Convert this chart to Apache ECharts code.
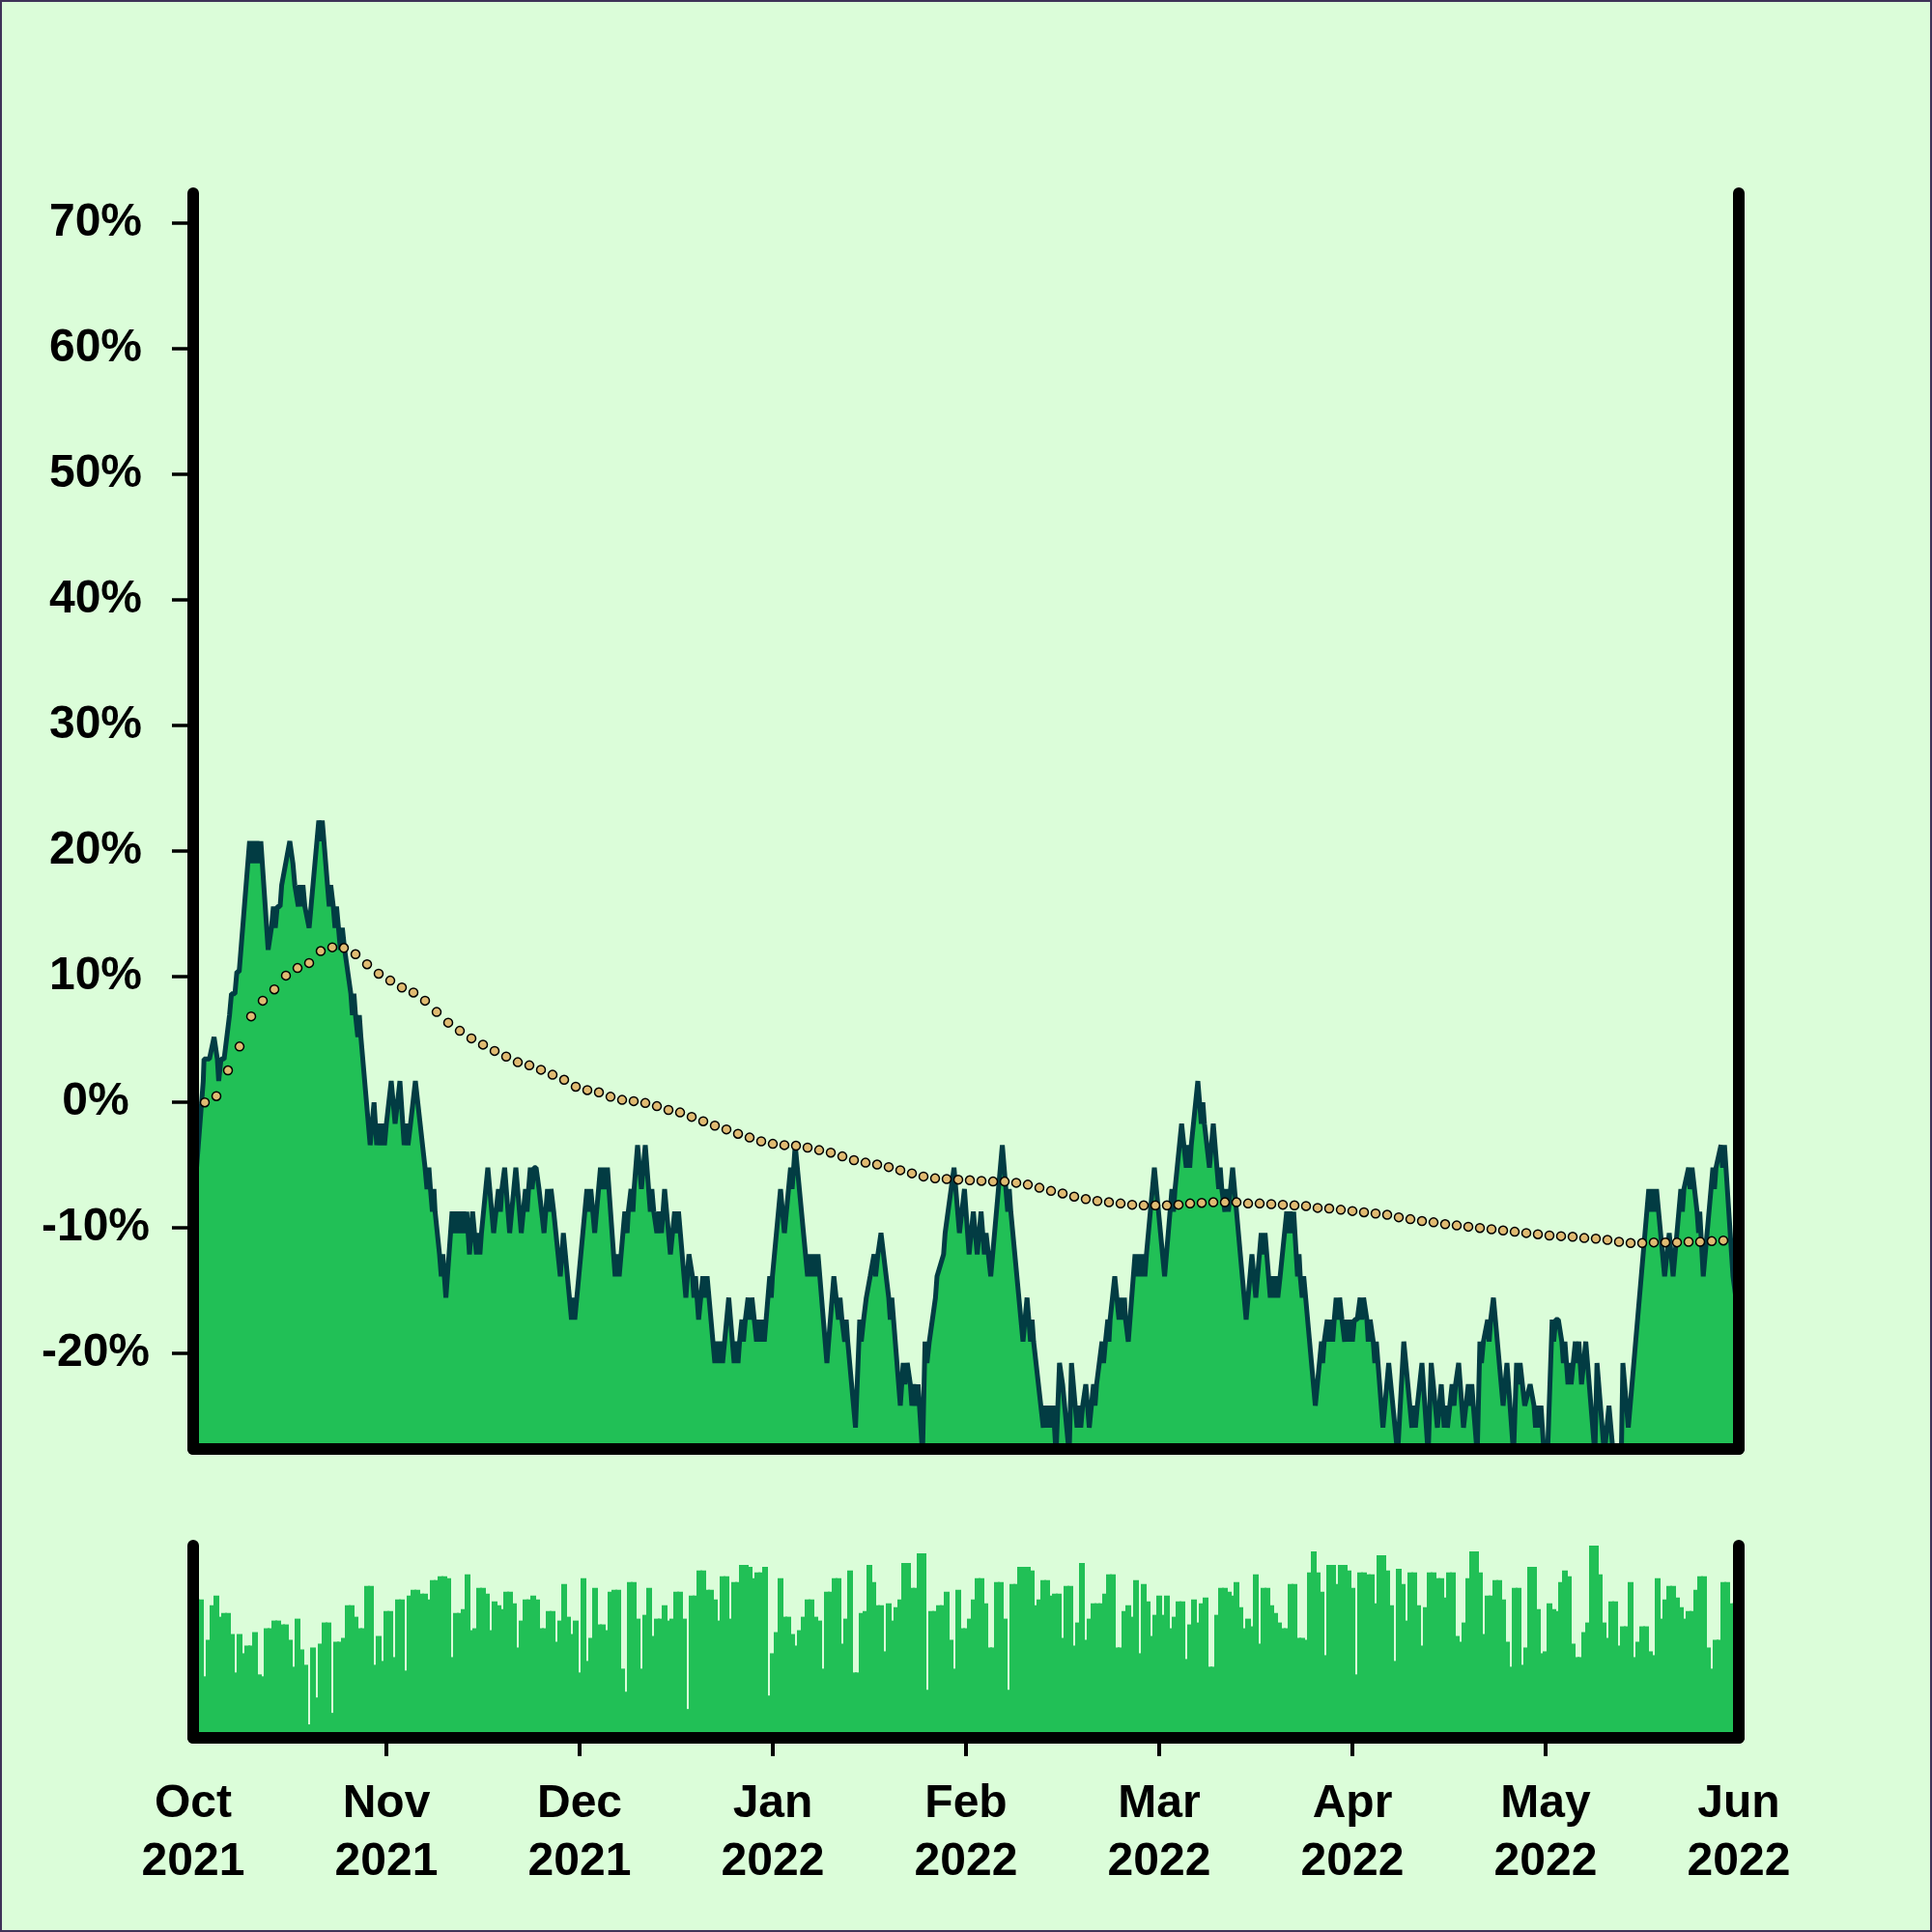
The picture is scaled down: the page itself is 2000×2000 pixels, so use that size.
<!DOCTYPE html>
<html><head><meta charset="utf-8">
<script src="https://cdn.jsdelivr.net/npm/echarts@6/dist/echarts.min.js"></script>
<style>html,body{margin:0;padding:0;background:#dbfdd9}#c{width:2000px;height:2000px}</style>
</head><body><div id="c"></div>
<script>
// ---------------- data ----------------
const monthLabels = ['Oct\n2021','Nov\n2021','Dec\n2021','Jan\n2022','Feb\n2022','Mar\n2022','Apr\n2022','May\n2022','Jun\n2022'];
const monthTickPoints = [50,100,150,200,250,300,350];
const yTickValues = [-20,-10,0,10,20,30,40,50,60,70];
// main series vertices: [point index, percent]
const mainLine = [
[0,-8.7],[2.6,1.7],[2.8,3.45],[4.2,3.45],[5.4,5.2],[6.25,3.45],[6.6,1.7],[7.2,3.45],[8,3.45],[9.4,6.95],[9.9,8.65],[10.8,8.65],[11.3,10.4],[11.9,10.4],[14.6,20.8],
[15,19.05],[15.5,20.8],[16,19.05],[16.5,20.8],[17,19.05],[17.5,20.8],
[19.4,12.15],[20.25,13.9],[20.75,15.6],[21.25,13.9],[21.75,15.6],[22.5,15.6],[22.9,17.3],[25,20.8],[25.8,19.05],[26.3,17.3],[26.7,17.3],[27.2,15.6],[27.6,17.3],[28,15.6],[28.4,17.3],[28.9,15.6],[30,13.9],
[32.5,22.45],[33,20.8],[33.4,22.45],[33.75,22.45],[34.75,17.3],[35.2,15.6],[35.6,17.3],[36.25,15.6],[36.7,13.9],[37.1,15.6],[37.6,13.9],[38.1,12.15],[38.6,13.9],[39.2,12.15],[40.8,8.65],[41.2,6.95],[41.6,8.65],[42,6.95],[42.6,5.2],[43,6.95],[43.4,5.2],
[45.8,-3.4],[46.8,0],[47.5,-3.4],[48,-1.7],[48.5,-3.4],[49,-1.7],[49.5,-3.4],[50,-1.7],[51.25,1.7],[52.25,-1.7],[53.5,1.7],[54.6,-3.4],[55.1,-1.7],[55.6,-3.4],[56.25,-1.7],[57.5,1.7],
[60,-5.2],[60.5,-6.9],[61,-5.2],[61.4,-6.9],[61.9,-8.7],[62.3,-6.9],[62.6,-8.7],[63.75,-12.1],[64.2,-13.85],[64.6,-12.1],[65,-13.85],[65.4,-15.55],[67,-8.7],[67.5,-10.4],[68,-8.7],[68.5,-10.4],[69,-8.7],[69.5,-10.4],[70,-8.7],[70.5,-10.4],[70.8,-8.7],[71.5,-12.1],[72.3,-8.7],[73.3,-12.1],[73.8,-10.4],[74.2,-12.1],[74.6,-10.4],[76.25,-5.2],[77.75,-10.4],[79,-6.9],[79.5,-8.7],[79.9,-6.9],[80.6,-5.2],[81.9,-10.4],[83.5,-5.2],[84.9,-10.4],[86,-6.9],[86.4,-8.7],[86.8,-6.9],[87.25,-5.2],[87.7,-6.9],[88.2,-5.2],[88.75,-5.2],[89.5,-6.9],[90.8,-10.4],[91.7,-6.9],[92.1,-8.7],[92.6,-6.9],[93.3,-8.7],[95,-13.85],[95.8,-10.4],[97.9,-17.3],[98.3,-15.55],[98.75,-17.3],[99.2,-17.3],
[101.9,-6.9],[102.4,-8.7],[102.9,-6.9],[103.9,-10.4],[105.4,-5.2],[105.8,-6.9],[106.3,-5.2],[106.8,-6.9],[107.2,-5.2],[109.2,-13.85],[109.6,-12.1],[110.25,-13.85],[111.7,-8.7],[112.3,-10.4],[112.6,-8.7],[113.3,-6.9],[113.8,-8.7],[114.1,-6.9],[115,-3.4],[116,-6.9],[117,-3.4],[118.3,-8.7],[118.7,-6.9],[119.2,-8.7],[120,-10.4],[120.5,-8.7],[121.2,-10.4],[122,-6.9],[123.5,-12.1],[124.6,-8.7],[125.1,-10.4],[125.6,-8.7],[127.5,-15.55],[128.3,-12.1],[129.2,-13.85],[129.6,-15.55],[130,-13.85],[130.8,-17.3],[131.9,-13.85],[132.5,-15.55],[133,-13.85],[135,-20.75],[135.5,-19.05],[136,-20.75],[136.5,-19.05],[137,-20.75],[137.5,-20.75],[138.6,-15.55],[140,-20.75],[140.5,-19.05],[141,-20.75],[141.4,-19.05],[142,-17.3],[142.4,-19.05],[142.9,-17.3],[143.6,-15.55],[144.1,-17.3],[144.6,-15.55],[145.8,-19.05],[146.3,-17.3],[146.8,-19.05],[147.3,-17.3],[147.8,-19.05],[148.2,-19.05],[149.2,-13.85],[149.6,-15.55],[149.9,-13.85],[152,-6.9],[153,-10.4],[154.6,-5.2],[155,-6.9],[155.4,-5.2],[155.8,-3.4],[159,-13.85],[159.5,-12.1],[160,-13.85],[160.5,-12.1],[161,-13.85],[161.7,-12.1],[164,-20.75],[165.8,-13.85],[167,-17.3],[167.4,-15.55],[167.9,-17.3],[168.6,-19.05],[169,-17.3],[169.4,-19.05],[171.4,-25.9],[172.5,-17.3],[172.9,-19.05],[173.5,-17.3],[174.2,-15.55],[175.2,-13.85],[176.2,-12.1],[176.6,-13.85],[177.2,-12.1],[178,-10.4],[180,-15.55],[180.4,-17.3],[180.8,-15.55],[183,-24.15],[183.75,-20.75],[184.2,-22.45],[184.8,-20.75],[185.6,-22.45],[186,-24.15],[186.5,-22.45],[187,-24.15],[187.6,-22.45],[188.75,-28],[189.4,-19.05],[189.9,-20.75],[190.5,-19.05],[192.1,-15.55],[192.5,-13.85],[194.2,-12.1],[194.6,-10.4],[196.9,-5.2],[198.3,-10.4],
[199.6,-6.9],[200.8,-12.1],[201.9,-8.7],[202.9,-12.1],[203.9,-8.7],[204.75,-12.1],[205.2,-10.4],[206.4,-13.85],[209.4,-3.4],[210.8,-8.7],[211.2,-6.9],[211.6,-8.7],[214.75,-19.05],[215.8,-15.55],[216.7,-19.05],[217.1,-17.3],[217.5,-19.05],[220,-25.9],[220.5,-24.15],[221,-25.9],[221.5,-24.15],[222,-25.9],[222.5,-24.15],[222.9,-25.9],[223.3,-28],[224.2,-20.75],[225,-22.45],[226.7,-28],[227.3,-20.75],[228.75,-25.9],[229.2,-24.15],[229.7,-25.9],[230.2,-24.15],[231,-22.45],[231.9,-25.9],[233,-22.45],[233.4,-24.15],[233.8,-22.45],[235.2,-19.05],[235.6,-20.75],[236.1,-19.05],[236.7,-17.3],[237,-19.05],[237.3,-17.3],[238.5,-13.85],[239.6,-17.3],[240,-15.55],[240.5,-17.3],[241,-15.55],[241.3,-17.3],[242,-19.05],[243.75,-12.1],[244.2,-13.85],[244.7,-12.1],[245.2,-13.85],[245.7,-12.1],[246.3,-13.85],[246.7,-12.1],[248.75,-5.2],[251.4,-13.85],[253.3,-6.9],[253.7,-8.7],[254.1,-6.9],[255.8,-1.7],[257,-5.2],[257.4,-3.4],[257.9,-5.2],[258.3,-3.4],[260,1.7],[260.9,-1.7],[261.3,0],[261.7,-1.7],[263,-5.2],[264,-1.7],[265.4,-6.9],[265.8,-5.2],[266.2,-6.9],[267,-8.7],[267.4,-6.9],[267.9,-8.7],[269,-5.2],[272.5,-17.3],[274,-12.1],[275,-15.55],[276.4,-10.4],[276.9,-12.1],[277.4,-10.4],[277.8,-10.4],[278.75,-15.55],[279.2,-13.85],[279.7,-15.55],[280.2,-13.85],[280.7,-15.55],[281.3,-13.85],[283,-8.7],[283.4,-10.4],[283.9,-8.7],[284.4,-10.4],[284.8,-8.7],[285.8,-13.85],[286.2,-12.1],[286.5,-13.85],[287,-15.55],[287.4,-13.85],[287.9,-15.55],[290.4,-24.15],[292,-19.05],[292.3,-20.75],[292.7,-19.05],[293.5,-17.3],[293.9,-19.05],[294.4,-17.3],[294.9,-19.05],[295.3,-17.3],[295.8,-15.55],[296.2,-17.3],[296.7,-15.55],[297.3,-17.3],[298,-19.05],[298.5,-17.3],[299,-19.05],[299.5,-17.3],[300,-19.05],[300.5,-17.3],[301.25,-17.3],
[302,-15.55],[302.4,-17.3],[302.9,-15.55],[303.75,-17.3],[304.1,-19.05],[304.6,-17.3],[305.4,-19.05],[305.8,-20.75],[306.2,-19.05],[307.9,-25.9],[309.4,-20.75],[311.7,-28],[312,-28],[313.3,-19.05],[315.4,-25.9],[315.8,-24.15],[316.3,-25.9],[316.8,-24.15],[318,-20.75],[319.6,-28],[320.4,-20.75],[322,-25.9],[323,-22.45],[323.75,-25.9],[324.2,-24.15],[324.6,-25.9],[325.2,-24.15],[325.8,-22.45],[326.3,-24.15],[326.7,-22.45],[327.5,-20.75],[328.75,-25.9],[330,-22.45],[330.4,-24.15],[330.9,-22.45],[331.3,-24.15],[332.3,-28],[333,-19.05],[333.4,-20.75],[333.9,-19.05],[335,-17.3],[335.4,-19.05],[335.8,-17.3],[336.5,-15.55],[339,-24.15],[340,-20.75],[341.7,-28],[342.5,-20.75],[342.9,-22.45],[343.4,-20.75],[344.6,-24.15],[346,-22.45],[347,-24.15],[347.4,-25.9],[347.9,-24.15],[348.4,-25.9],[348.8,-24.15],[349.6,-28],[350.5,-28],[351.7,-17.3],[352.1,-19.05],[352.6,-17.3],[353.3,-17.3],[354.2,-19.05],[354.6,-20.75],[355,-19.05],[355.8,-22.45],[356.2,-20.75],[356.6,-22.45],[357.7,-19.05],[358.1,-20.75],[358.6,-19.05],[359.3,-22.45],[360.4,-19.05],[362.75,-28],[363.3,-20.75],[365.2,-28],[366.4,-24.15],[367.5,-28],[369.6,-28],[370,-20.75],[371.4,-25.9],[376.7,-6.9],[377.2,-8.7],[377.7,-6.9],[378.2,-8.7],[378.7,-6.9],[380.8,-13.85],[382,-10.4],[383,-13.85],[385,-6.9],[385.4,-8.7],[385.8,-6.9],[387,-5.2],[387.4,-6.9],[387.9,-5.2],[388.3,-5.2],[389.2,-8.7],[389.6,-10.4],[389.9,-8.7],[390.8,-13.85],[393.3,-5.2],[393.7,-6.9],[394.1,-5.2],[395.4,-3.4],[395.8,-5.2],[396.3,-3.4],[396.8,-3.4],[398.5,-13.85],[400,-17.3]
];
// dotted running line: one value every 3rd point, starting at point 3
const dotStart = 3, dotStep = 3;
const dotValues = [
0.0,0.5,2.55,4.45,6.85,8.1,9.0,10.1,10.7,11.1,12.05,12.35,12.3,11.8,11.0,10.25,9.7,9.15,8.75,8.1,7.2,6.35,5.7,5.1,4.6,4.1,3.65,3.2,2.95,2.6,2.2,1.8,1.25,
0.98,0.8,0.45,0.2,0.1,-0.05,-0.3,-0.6,-0.8,-1.15,-1.5,-1.85,-2.15,-2.5,-2.8,-3.1,-3.3,-3.4,-3.45,-3.6,-3.8,-4.0,-4.3,-4.6,-4.8,-4.95,-5.15,-5.4,-5.65,-5.9,-6.05,-6.1,-6.15,
-6.2,-6.25,-6.3,-6.3,-6.4,-6.55,-6.8,-7.05,-7.25,-7.5,-7.7,-7.85,-7.95,-8.05,-8.15,-8.2,-8.2,-8.2,-8.15,-8.05,-8.0,-7.95,-7.95,-7.95,-8.05,-8.05,-8.1,-8.15,-8.2,-8.25,-8.4,-8.45,-8.55,
-8.65,-8.75,-8.85,-8.95,-9.15,-9.3,-9.45,-9.55,-9.7,-9.8,-9.9,-10.0,-10.1,-10.2,-10.3,-10.4,-10.5,-10.6,-10.65,-10.7,-10.8,-10.85,-10.95,-11.1,-11.2,-11.2,-11.15,-11.15,-11.15,-11.1,-11.1,-11.05,-11.0
];
// lower panel bars, one per point (relative height 0-100)
const barValues = [
72,72,72,32,51,69,74,63,65,65, 54,34,54,44,48,48,55,33,32,57, 57,61,61,59,59,51,37,62,46,38, 7,47,21,49,60,60,13,50,50,52,
69,69,63,57,57,79,79,38,53,40, 66,66,42,72,72,35,74,77,77,75, 75,72,82,82,84,84,83,42,65,65, 67,85,56,57,78,78,75,56,71,69,
67,76,76,70,47,61,72,72,74,72, 57,57,66,66,50,61,80,63,54,61, 34,83,
40,52,78,59,59,56,76,77, 77,36,24,81,81,62,36,64,78,53, 62,62,69,61,62,76,76,62,15,74, 74,87,87,77,77,72,61,84,84,62,
81,81,90,90,89,83,86,86,89,22, 44,55,83,63,63,54,48,56,63,72, 72,63,61,36,76,76,83,83,49,62, 87,34,34,65,66,90,81,69,69,45,
70,61,68,72,91,91,78,78,96,96, 25,66,66,69,69,76,51,36,77,57, 57,62,
72,83,83,70,47,47,81,81, 62,25,80,80,89,89,89,87,69,72, 82,82,74,75,75,52,79,79,48,60, 91,51,62,70,70,70,75,85,85,47,
47,66,69,63,82,44,80,71,53,64, 74,64,74,57,63,71,71,41,59,72, 60,70,73,37,37,64,78,78,76,74, 81,68,57,62,58,85,49,78,78,69,
65,60,57,57,80,80,52,52,51,86, 97,86,76,43,90,90,80,90,90,87, 78,33,
86,86,85,85,70,95,95,87, 69,40,88,80,61,86,86,69,48,68, 86,86,83,83,73,86,86,53,50,60, 83,97,97,86,54,74,74,82,82,72,
50,37,78,78,38,47,89,89,67,44, 45,70,67,66,81,87,84,49,42,42, 55,60,100,100,85,60,52,71,71,48, 58,58,81,42,50,58,58,45,43,83,
62,72,79,79,73,68,62,66,66,77, 84,84,47,36,51,51,81,81,70,70, 70
];

// ---------------- chart ----------------
const BG = '#dbfdd9', GREEN = '#21c056', DARK = '#023c43', TAN = '#e0bb72';
const FONT = 'Liberation Sans';
const axisLineStyle = {color:'#000', width:12, cap:'round'};
function plainAxis(extra){
  return Object.assign({
    axisLine:{show:true, onZero:false, lineStyle:axisLineStyle},
    axisTick:{show:false}, axisLabel:{show:false}, splitLine:{show:false}, z:10
  }, extra);
}
const chart = echarts.init(document.getElementById('c'), null, {renderer:'canvas'});
chart.setOption({
  backgroundColor: BG,
  animation: false,
  graphic: [{type:'rect', z:100, silent:true, shape:{x:1, y:1, width:1998, height:1998},
    style:{fill:null, stroke:'#3e3358', lineWidth:2}}],
  grid: [
    {left:200, right:200, top:200, bottom:500},
    {left:200, right:200, top:1600, bottom:201}
  ],
  xAxis: [
    plainAxis({gridIndex:0, type:'value', min:0, max:400}),
    plainAxis({gridIndex:1, type:'value', min:0, max:400, interval:50,
      axisTick:{show:true, customValues:monthTickPoints, length:19, lineStyle:{color:'#000', width:4}},
      axisLabel:{show:true, formatter:v => monthLabels[Math.round(v/50)], fontSize:48, fontWeight:'bold',
        fontFamily:FONT, color:'#000', lineHeight:60, margin:39, showMinLabel:true, showMaxLabel:true}
    })
  ],
  yAxis: [
    plainAxis({gridIndex:0, type:'value', min:-27.6, max:72.4, position:'left',
      axisTick:{show:true, customValues:yTickValues, length:22, lineStyle:{color:'#000', width:3.5}},
      axisLabel:{show:true, customValues:yTickValues, formatter:v => v + '%', fontSize:48, fontWeight:'bold',
        fontFamily:FONT, color:'#000', align:'center', margin:101}
    }),
    plainAxis({gridIndex:0, type:'value', min:-27.6, max:72.4, position:'right'}),
    plainAxis({gridIndex:1, type:'value', min:0, max:100, position:'left'}),
    plainAxis({gridIndex:1, type:'value', min:0, max:100, position:'right'})
  ],
  series: [
    {type:'bar', xAxisIndex:1, yAxisIndex:2, data:barValues.map((v,i)=>[i,v]), barWidth:6,
      itemStyle:{color:GREEN}, silent:true, z:2},
    {type:'line', xAxisIndex:0, yAxisIndex:0, data:mainLine, symbol:'none',
      lineStyle:{color:DARK, width:5, join:'bevel'}, areaStyle:{color:GREEN, opacity:1, origin:'start'}, z:2, silent:true},
    {type:'line', xAxisIndex:0, yAxisIndex:0, data:dotValues.map((v,j)=>[dotStart + dotStep*j, v]),
      symbol:'circle', symbolSize:9, lineStyle:{width:0, opacity:0},
      itemStyle:{color:TAN, borderColor:'#000', borderWidth:1.5}, z:3, silent:true}
  ]
});
</script></body></html>
